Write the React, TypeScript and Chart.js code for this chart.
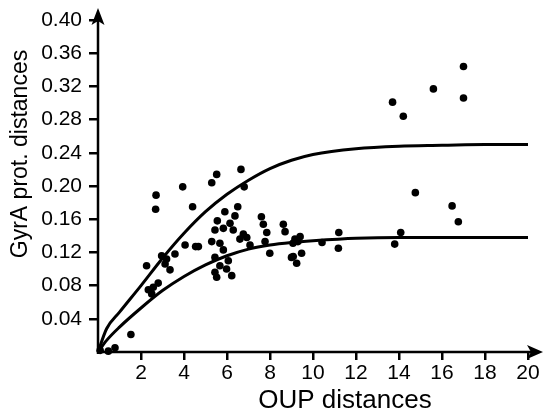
import React, { useEffect, useRef } from "react";
import { Chart, registerables } from "chart.js";

Chart.register(...registerables);

// Scatter observations (OUP distance, GyrA protein distance)
const pointsX = [
  17.0, 15.6, 13.7, 14.2, 17.0, 14.76, 16.47, 16.76, 14.08, 13.8,
  11.2, 11.18, 10.42, 9.07, 9.4, 9.47, 9.08, 9.24, 8.62, 8.7, 7.99, 7.6, 7.69, 7.85, 7.77, 9.16,
  6.65, 5.52, 5.29, 6.8, 6.5, 5.9, 6.37, 5.55, 6.14, 5.44, 5.83, 6.29, 6.76, 6.92, 5.29, 5.67,
  6.6, 7.07, 4.67, 5.83, 5.44, 6.06, 5.67, 5.98, 5.44, 5.52, 6.22, 9.0, 9.3,
  2.7, 2.68, 3.94, 4.4, 4.05, 4.54, 2.26, 2.96, 3.19, 3.58, 3.12, 3.35, 2.8, 2.57, 2.34, 2.5,
  1.53, 0.79, 0.48, 0.1,
];
const pointsY = [
  0.344, 0.317, 0.301, 0.284, 0.306, 0.192, 0.176, 0.157, 0.144, 0.130,
  0.144, 0.125, 0.132, 0.131, 0.139, 0.119, 0.115, 0.107, 0.154, 0.145, 0.119, 0.163, 0.154, 0.144, 0.133, 0.136,
  0.220, 0.214, 0.204, 0.199, 0.175, 0.169, 0.164, 0.158, 0.155, 0.147, 0.149, 0.147, 0.142, 0.138, 0.133, 0.131,
  0.136, 0.129, 0.127, 0.123, 0.114, 0.110, 0.104, 0.100, 0.096, 0.090, 0.092, 0.114, 0.133,
  0.189, 0.172, 0.199, 0.175, 0.129, 0.127, 0.104, 0.116, 0.112, 0.118, 0.106, 0.099, 0.083, 0.078, 0.075, 0.070,
  0.021, 0.005, 0.001, 0.002,
];

// Fitted curves
const curveX = [0, 0.4, 1, 2, 3, 4, 5, 6, 7, 8, 9, 10, 12, 14, 16, 18, 20];
const upperY = [0, 0.028, 0.048, 0.080, 0.113, 0.143, 0.169, 0.190, 0.207, 0.221, 0.231, 0.238, 0.245, 0.248, 0.249, 0.250, 0.250];
const lowerY = [0, 0.014, 0.030, 0.053, 0.074, 0.091, 0.105, 0.116, 0.124, 0.129, 0.132, 0.134, 0.137, 0.138, 0.138, 0.138, 0.138];

const xTicks = [2, 4, 6, 8, 10, 12, 14, 16, 18, 20];
const yTicks = [0.04, 0.08, 0.12, 0.16, 0.2, 0.24, 0.28, 0.32, 0.36, 0.4];

const xTitle = "OUP distances";
const yTitle = "GyrA prot. distances";

const FONT = "'Liberation Sans', Arial, sans-serif";

const axesPlugin = {
  id: "arrowAxes",
  afterDraw(chart: any) {
    const ctx = chart.ctx as CanvasRenderingContext2D;
    const xs = chart.scales.x;
    const ys = chart.scales.y;
    const x0 = xs.getPixelForValue(0);
    const y0 = ys.getPixelForValue(0);
    ctx.save();
    ctx.strokeStyle = "#000";
    ctx.fillStyle = "#000";
    ctx.lineWidth = 2.5;
    // y axis line
    ctx.beginPath();
    ctx.moveTo(x0, y0 + 2);
    ctx.lineTo(x0, 14);
    ctx.stroke();
    // x axis line
    ctx.beginPath();
    ctx.moveTo(x0 - 1, y0);
    ctx.lineTo(536, y0);
    ctx.stroke();
    // y arrow head
    ctx.beginPath();
    ctx.moveTo(x0, 8);
    ctx.lineTo(x0 + 6.5, 25);
    ctx.lineTo(x0, 21);
    ctx.lineTo(x0 - 6.5, 25);
    ctx.closePath();
    ctx.fill();
    // x arrow head
    ctx.beginPath();
    ctx.moveTo(543, y0);
    ctx.lineTo(527, y0 - 7);
    ctx.lineTo(531, y0);
    ctx.lineTo(527, y0 + 7);
    ctx.closePath();
    ctx.fill();
    // titles
    ctx.textAlign = "center";
    ctx.textBaseline = "middle";
    ctx.font = `26px ${FONT}`;
    ctx.fillText(xTitle, 345, 401);
    ctx.translate(21, 154);
    ctx.rotate(-Math.PI / 2);
    ctx.font = `23px ${FONT}`;
    ctx.fillText(yTitle, 0, 0);
    ctx.restore();
  },
};

export default function App() {
  const ref = useRef<HTMLCanvasElement>(null);
  useEffect(() => {
    document.body.style.margin = "0";
    const canvas = ref.current!;
    const scatter = pointsX.map((x, i) => ({ x, y: pointsY[i] }));
    const upper = curveX.map((x, i) => ({ x, y: upperY[i] }));
    const lower = curveX.map((x, i) => ({ x, y: lowerY[i] }));
    const chart = new Chart(canvas, {
      type: "scatter",
      data: {
        datasets: [
          {
            data: upper,
            showLine: true,
            borderColor: "#000",
            borderWidth: 3,
            pointRadius: 0,
            cubicInterpolationMode: "monotone",
            clip: false,
          } as any,
          {
            data: lower,
            showLine: true,
            borderColor: "#000",
            borderWidth: 3,
            pointRadius: 0,
            cubicInterpolationMode: "monotone",
            clip: false,
          } as any,
          {
            data: scatter,
            backgroundColor: "#000",
            borderWidth: 0,
            pointRadius: 3.8,
            clip: false,
          } as any,
        ],
      },
      options: {
        responsive: false,
        animation: false,
        layout: { padding: { top: 20, right: 16, left: 0, bottom: 0 } },
        plugins: { legend: { display: false }, tooltip: { enabled: false } },
        scales: {
          x: {
            type: "linear",
            min: 0,
            max: 20,
            afterFit(scale: any) {
              scale.height = 64;
            },
            afterBuildTicks(scale: any) {
              scale.ticks = xTicks.map((v) => ({ value: v }));
            },
            border: { display: false },
            grid: {
              drawOnChartArea: false,
              drawTicks: true,
              tickLength: 8,
              color: "#000",
              lineWidth: 2.5,
            },
            ticks: {
              color: "#000",
              font: { family: FONT, size: 21 },
              padding: 1,
              maxRotation: 0,
              autoSkip: false,
              callback: (v: any) => String(v),
            },
          },
          y: {
            type: "linear",
            min: 0,
            max: 0.4,
            afterFit(scale: any) {
              scale.width = 98;
            },
            afterBuildTicks(scale: any) {
              scale.ticks = yTicks.map((v) => ({ value: v }));
            },
            border: { display: false },
            grid: {
              drawOnChartArea: false,
              drawTicks: true,
              tickLength: 9,
              color: "#000",
              lineWidth: 2.5,
            },
            ticks: {
              color: "#000",
              font: { family: FONT, size: 21 },
              padding: 7,
              autoSkip: false,
              callback: (v: any) => Number(v).toFixed(2),
            },
          },
        },
      },
      plugins: [axesPlugin],
    });
    return () => chart.destroy();
  }, []);
  return (
    <div style={{ position: "absolute", left: 0, top: 0 }}>
      <canvas ref={ref} width={544} height={416} style={{ display: "block", width: 544, height: 416 }} />
    </div>
  );
}
